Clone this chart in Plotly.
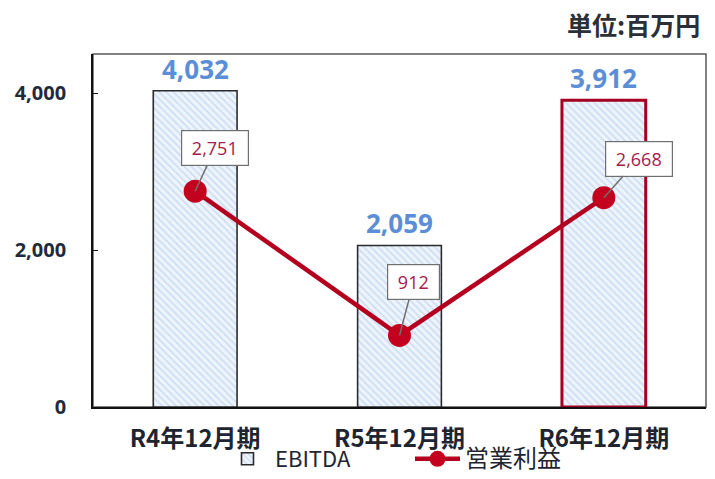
import plotly.graph_objects as go

categories = ["R4年12月期", "R5年12月期", "R6年12月期"]
ebitda = [4032, 2059, 3912]
op_income = [2751, 912, 2668]
y_ticks = [0, 2000, 4000]
y_tick_labels = ["0", "2,000", "4,000"]

label_offsets = [(20, -43), (14, -53), (35, -39)]

W, H = 699, 463
ML, MR, MT, MB = 85, 1, 46, 64
PW = W - ML - MR
PH = H - MT - MB

fig = go.Figure()

fig.add_trace(go.Bar(
    x=categories, y=ebitda, name="EBITDA",
    width=0.41,
    marker=dict(
        color="#EEF4FB",
        line=dict(color=["#2b2b2b", "#2b2b2b", "#A50021"], width=[1.6, 1.6, 3]),
        pattern=dict(shape="\\", fgcolor="#AFC8EA", size=5, solidity=0.35),
    ),
))

fig.add_trace(go.Scatter(
    x=categories, y=op_income, name="<span style='font-size:24px'>営業利益</span>",
    mode="lines+markers",
    line=dict(color="#B4001E", width=4.5),
    marker=dict(color="#C4001F", size=23),
    cliponaxis=False,
))

for c, v in zip(categories, ebitda):
    fig.add_annotation(
        x=c, y=v, text=f"{v:,}", showarrow=False, yanchor="bottom", yshift=2,
        font=dict(family="Open Sans", size=26, color="#5B8ED6", weight="bold"),
    )

for c, v, (ax, ay) in zip(categories, op_income, label_offsets):
    fig.add_annotation(
        x=c, y=v, text=f"&nbsp;{v:,}&nbsp;", showarrow=True, ax=ax, ay=ay,
        arrowhead=0, arrowwidth=1.5, arrowcolor="#6f6f6f", standoff=0,
        bgcolor="white", bordercolor="#6f6f6f", borderwidth=1.2, borderpad=5,
        font=dict(family="Open Sans", size=18, color="#A3204A"),
    )

fig.add_annotation(
    xref="paper", yref="paper", x=(W - 5 - ML) / PW, y=1 + (MT - 16) / PH,
    xanchor="right", yanchor="middle",
    text="単位:百万円", showarrow=False,
    font=dict(family="Noto Sans CJK JP", size=25, color="#2a2f38", weight="bold"),
)

fig.add_shape(type="rect", xref="paper", yref="paper", x0=0, y0=0, x1=1, y1=1,
              line=dict(color="#5a5a5a", width=1.5), layer="below")

fig.update_layout(
    width=W, height=H,
    margin=dict(l=ML, r=MR, t=MT, b=MB, autoexpand=False),
    plot_bgcolor="white", paper_bgcolor="white",
    showlegend=True,
    legend=dict(orientation="h", x=(212 - ML) / PW, xanchor="left",
                y=-(451 - (MT + PH)) / PH, yanchor="middle",
                bgcolor="rgba(0,0,0,0)",
                font=dict(family="Noto Sans CJK JP", size=22, color="#1e2530"),
                itemwidth=45, traceorder="normal",
                entrywidth=130, entrywidthmode="pixels"),
    xaxis=dict(
        range=[-0.5, 2.5], showline=True, linecolor="#111", linewidth=1.8,
        ticks="", showgrid=False, automargin=False,
        tickfont=dict(family="Noto Sans CJK JP", size=24, color="#1e2530", weight="bold"),
        ticklabelstandoff=9,
    ),
    yaxis=dict(
        range=[0, 4500], showline=True, linecolor="#111", linewidth=1.8,
        tickvals=y_ticks, ticktext=y_tick_labels, automargin=False,
        ticks="inside", ticklen=5, tickcolor="#111", showgrid=False, zeroline=False,
        tickfont=dict(family="Open Sans", size=20, color="#1f2b3c", weight="bold"),
        ticklabelstandoff=21,
    ),
)

fig.write_html("out.html")
